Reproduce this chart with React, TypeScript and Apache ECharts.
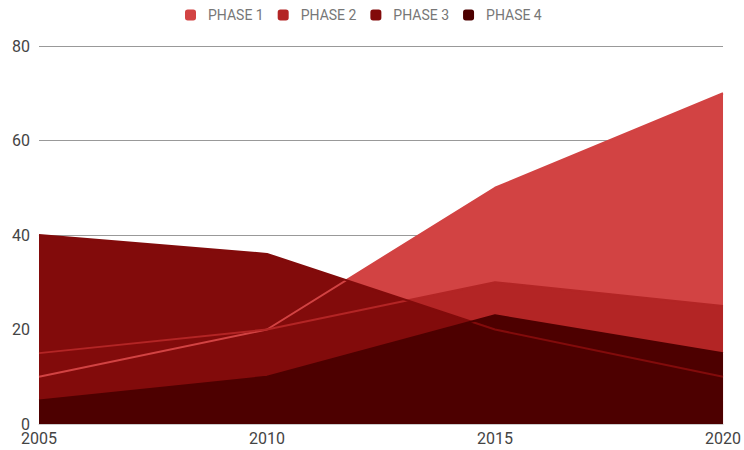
import React, { useEffect, useRef } from "react";
import * as echarts from "echarts";

const years = ["2005", "2010", "2015", "2020"];
const seriesNames = ["PHASE 1", "PHASE 2", "PHASE 3", "PHASE 4"];
const phase1 = [10, 20, 50, 70];
const phase2 = [15, 20, 30, 25];
const phase3 = [40, 36, 20, 10];
const phase4 = [5, 10, 23, 15];
const colors = ["#d24343", "#b32525", "#820b0b", "#4d0000"];

export default function App() {
  const ref = useRef<HTMLDivElement>(null);
  useEffect(() => {
    if (!ref.current) return;
    const chart = echarts.init(ref.current, null, { renderer: "svg" });
    const data = [phase1, phase2, phase3, phase4];
    const areaSeries = data.map((d, i) => ({
      name: seriesNames[i],
      type: "line",
      data: d,
      symbol: "none",
      z: 1,
      color: colors[i],
      lineStyle: { width: 0, opacity: 0 },
      areaStyle: { color: colors[i], opacity: 1 },
    }));
    const lineSeries = data.map((d, i) => ({
      name: seriesNames[i] + " line",
      type: "line",
      data: d,
      symbol: "none",
      z: 3,
      color: colors[i],
      lineStyle: { width: 2, color: colors[i] },
    }));
    chart.setOption({
      animation: false,
      textStyle: { fontFamily: "Roboto" },
      legend: {
        data: seriesNames,
        top: 3,
        left: 180,
        icon: "roundRect",
        itemWidth: 11,
        itemHeight: 11,
        itemGap: 14,
        textStyle: { color: "#777", fontSize: 14, fontFamily: "Roboto", padding: [0, 0, 0, 7] },
      },
      grid: { left: 39, right: 20, top: 46, bottom: 26 },
      xAxis: {
        type: "category",
        data: years,
        boundaryGap: false,
        axisLine: { lineStyle: { color: "#ccc" } },
        axisTick: { show: false },
        axisLabel: { color: "#444", fontSize: 16, margin: 6, fontFamily: "Roboto" },
        splitLine: { show: false },
      },
      yAxis: {
        type: "value",
        min: 0,
        max: 80,
        interval: 20,
        axisLine: { show: false },
        axisTick: { show: false },
        axisLabel: { color: "#444", fontSize: 16, margin: 9, fontFamily: "Roboto" },
        splitLine: { lineStyle: { color: "#999", width: 1 } },
      },
      series: [...areaSeries, ...lineSeries],
    });
    return () => chart.dispose();
  }, []);
  return <div ref={ref} style={{ width: 744, height: 450, position: "absolute", left: 0, top: 0 }} />;
}
